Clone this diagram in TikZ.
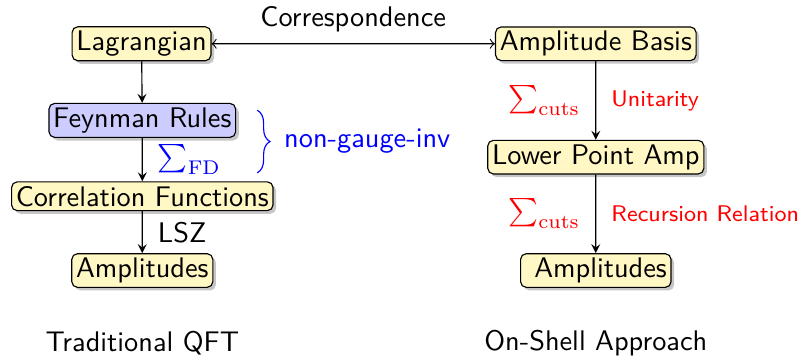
\documentclass[tikz,border=0pt]{standalone}
\usepackage{xcolor}
\usepackage{tikz}
\usetikzlibrary{shapes,decorations.pathreplacing,shadows}
\definecolor{boxyellow}{RGB}{255, 247, 196}
\definecolor{boxblue}{RGB}{204, 204, 255}

\begin{document}
\begin{tikzpicture}[scale=0.97,
    every node/.style={font=\sffamily},
    box/.style={draw, rounded corners=2pt, fill=boxyellow, inner sep=1.5pt,
        drop shadow={shadow xshift=1.1pt, shadow yshift=-1.1pt, opacity=0.45}},
    flow/.style={-stealth},
    redlbl/.style={red, font=\footnotesize\sffamily}
]
    \useasboundingbox (0,0) rectangle (10.27,4.58);

    % Traditional route
    \node[box] (lag) at (1.81,4.02) {Lagrangian};
    \node[box, fill=boxblue] (feyn) at (1.82,3.04) {Feynman Rules};
    \node[box] (corr) at (1.82,2.07) {Correlation Functions};
    \node[box] (ampl) at (1.82,1.12) {Amplitudes};
    \node (tqft) at (1.82,0.19) {Traditional QFT};

    % On-shell route
    \node[box] (basis) at (7.62,4.02) {Amplitude Basis};
    \node[box] (lower) at (7.62,2.57) {Lower Point Amp};
    \node[box] (ampr) at (7.62,1.12) {\ Amplitudes};
    \node (osa) at (7.62,0.19) {On-Shell Approach};

    % Connectors
    \draw[<->] (lag) -- node[above=0.5pt] {Correspondence} (basis);
    \draw[flow] (lag) -- (feyn);
    \draw[flow] (feyn) -- node[right=2pt, blue] {$\sum_{\mathrm{FD}}$} (corr);
    \draw[flow] (corr) -- node[right=2pt] {LSZ} (ampl);
    \draw[flow] (basis) -- node[left=2pt, red] {$\sum_{\mathrm{cuts}}$}
        node[right=2pt, redlbl] {Unitarity} (lower);
    \draw[flow] (lower) -- node[left=2pt, red] {$\sum_{\mathrm{cuts}}$}
        node[right=2pt, redlbl] {Recursion Relation} (ampr);

    % Brace over the gauge dependent steps
    \coordinate (bt) at (3.29,3.17);
    \coordinate (bb) at (3.29,2.37);
    \draw[blue, decorate, decoration={brace, amplitude=4.5pt}] (bt) -- (bb)
        node[midway, right=6pt, blue] (ngi) {non-gauge-inv};
\end{tikzpicture}
\end{document}
